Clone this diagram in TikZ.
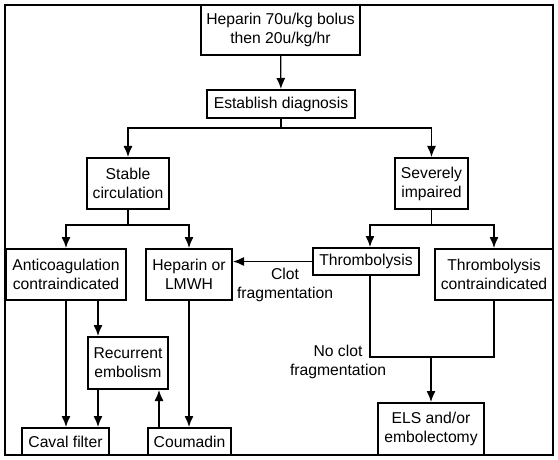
\documentclass[tikz,border=0pt]{standalone}
\usepackage{fontspec}
\setmainfont{Liberation Sans}
\usetikzlibrary{arrows.meta}
\begin{document}
\begin{tikzpicture}[x=1pt,y=-1pt,
 box/.style={draw,line width=2pt,inner sep=0pt,align=center,font=\fontsize{15.7}{19}\selectfont},
 lbl/.style={inner sep=0pt,align=center,font=\fontsize{15.7}{19}\selectfont},
 conn/.style={line width=1.3pt},
 arr/.style={conn,-{Latex[length=11pt,width=9pt]}}]
\useasboundingbox (0,0) rectangle (558,460);
\draw[line width=1.5pt] (5,5) rectangle (553,455);
% boxes
\node[box,minimum width=159,minimum height=50] (hep) at (280.5,30) {Heparin 70u/kg bolus\\then 20u/kg/hr};
\node[box,minimum width=148,minimum height=28] (diag) at (281,104) {Establish diagnosis};
\node[box,minimum width=82,minimum height=51] (stable) at (128,183.5) {Stable\\circulation};
\node[box,minimum width=73,minimum height=51] (severe) at (431.5,183.5) {Severely\\impaired};
\node[box,minimum width=120,minimum height=51] (anti) at (66,274.5) {Anticoagulation\\contraindicated};
\node[box,minimum width=86,minimum height=51] (heplm) at (189,274.5) {Heparin or\\LMWH};
\node[box,minimum width=106,minimum height=27] (throm) at (366,261.5) {Thrombolysis};
\node[box,minimum width=118,minimum height=51] (thcontra) at (494,274.5) {Thrombolysis\\contraindicated};
\node[box,minimum width=80,minimum height=52] (recur) at (128,363) {Recurrent\\embolism};
\node[box,minimum width=87,minimum height=27] (caval) at (65.5,441.5) {Caval filter};
\node[box,minimum width=83,minimum height=27] (coum) at (189.5,441.5) {Coumadin};
\node[box,minimum width=106,minimum height=52] (els) at (431,429) {ELS and/or\\embolectomy};
% labels
\node[lbl] (clot) at (285,285) {Clot\\fragmentation};
\node[lbl] (noclot) at (338,362) {No clot\\fragmentation};
% helper coordinates
\coordinate (j1) at (281,128);
\coordinate (j2) at (128,225);
\coordinate (j3) at (431.5,225);
\coordinate (j4) at (431,357);
\coordinate (x98) at (98,0);
\coordinate (x159) at (159,0);
\coordinate (x370) at (370,0);
% connectors
\draw[arr] (hep) -- (diag);
\draw[conn] (diag.south) -- (j1);
\draw[arr] (j1) -| (stable);
\draw[arr] (j1) -| (severe);
\draw[conn] (stable.south) -- (j2);
\draw[arr] (j2) -| (anti);
\draw[arr] (j2) -| (heplm);
\draw[conn] (severe.south) -- (j3);
\draw[arr] (j3) -| (throm.north -| x370);
\draw[arr] (j3) -| (thcontra);
\draw[arr] (throm.west) -- (heplm.east |- throm.west);
\draw[conn] (throm.south -| x370) -- (x370 |- j4) -- (thcontra.south |- j4) -- (thcontra.south);
\draw[arr] (j4) -- (els);
\draw[arr] (anti.south) -- (anti.south |- caval.north);
\draw[arr] (anti.south -| x98) -- (recur.north -| x98);
\draw[arr] (recur.south -| x98) -- (caval.north -| x98);
\draw[arr] (heplm.south) -- (heplm.south |- coum.north);
\draw[arr] (coum.north -| x159) -- (recur.south -| x159);
\end{tikzpicture}
\end{document}
